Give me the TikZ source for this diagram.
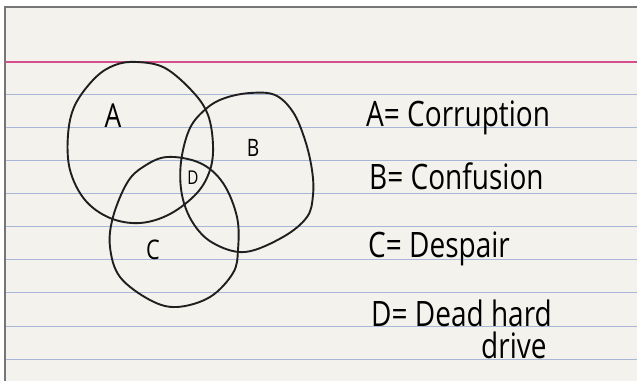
\documentclass[tikz,border=0pt]{standalone}
\usepackage{fontspec}
\usepackage{xcolor}
\usepackage{tikz}
\usetikzlibrary{backgrounds}
\newfontfamily\handfont{Open Sans}[FakeStretch=0.8]
\definecolor{card}{RGB}{243,242,237}
\definecolor{ruleblue}{RGB}{168,182,214}
\definecolor{marginpink}{RGB}{214,78,140}
\definecolor{cardedge}{RGB}{118,118,118}
\pgfdeclarelayer{edgelayer}
\pgfdeclarelayer{nodelayer}
\pgfsetlayers{background,edgelayer,nodelayer,main}
\tikzstyle{set}=[draw=black!88,line width=1.9pt,line join=round]
\tikzstyle{setname}=[inner sep=0mm,font=\handfont]
\tikzstyle{key}=[inner sep=0mm,anchor=base west,font=\handfont\fontsize{35}{32}\selectfont]
\tikzstyle{ruling}=[draw=ruleblue,line width=0.9pt]

\begin{document}
\begin{tikzpicture}[x=1pt,y=-1pt]
	\useasboundingbox (0,0) rectangle (637,381);
	\begin{pgfonlayer}{background}
		\fill[white] (0,0) rectangle (637,381);
		\fill[card] (5,7) rectangle (637,381);
		\draw[marginpink,line width=1.6pt] (5,62) -- (637,62);
		\foreach \i in {0,...,8}
			\draw[ruling] (5,{94+33.15*\i}) -- (637,{94+33.15*\i});
		\draw[cardedge,line width=1.2pt] (5,381) -- (5,7) -- (637,7);
	\end{pgfonlayer}
	\begin{pgfonlayer}{edgelayer}
		% A
		\draw[set] plot[smooth cycle,tension=0.6] coordinates {(137,62) (165,68) (193,92) (208,115) (213,145) (210,170) (197,193) (170,214) (140,223) (110,218) (85,200) (70,170) (68,135) (75,105) (95,78) (115,65)};
		% B
		\draw[set] plot[smooth cycle,tension=0.6] coordinates {(250,93) (275,95) (293,112) (305,140) (312,170) (313,195) (307,217) (283,237) (245,252) (213,243) (193,223) (182,195) (181,162) (190,128) (207,108) (225,98)};
		% C
		\draw[set] plot[smooth cycle,tension=0.6] coordinates {(167,157) (200,163) (223,183) (237,217) (238,250) (233,273) (210,297) (177,307) (150,300) (120,277) (110,247) (113,217) (127,183) (143,167)};
	\end{pgfonlayer}
	\begin{pgfonlayer}{nodelayer}
		\node [style=setname,font=\handfont\fontsize{33}{36}\selectfont] (a) at (113,116) {A};
		\node [style=setname,font=\handfont\fontsize{24}{28}\selectfont] (b) at (253,148) {B};
		\node [style=setname,font=\handfont\fontsize{27}{30}\selectfont] (c) at (153,250) {C};
		\node [style=setname,font=\handfont\fontsize{19}{22}\selectfont] (d) at (193,178) {D};
		\node [style=key] (keyA) at (366,126) {A= Corruption};
		\node [style=key] (keyB) at (369,189) {B= Confusion};
		\node [style=key] (keyC) at (368,257) {C= Despair};
		\node [style=key,align=left] (keyD) at (371,358) {D= Dead hard\\\hspace*{110pt}drive};
	\end{pgfonlayer}
\end{tikzpicture}
\end{document}
